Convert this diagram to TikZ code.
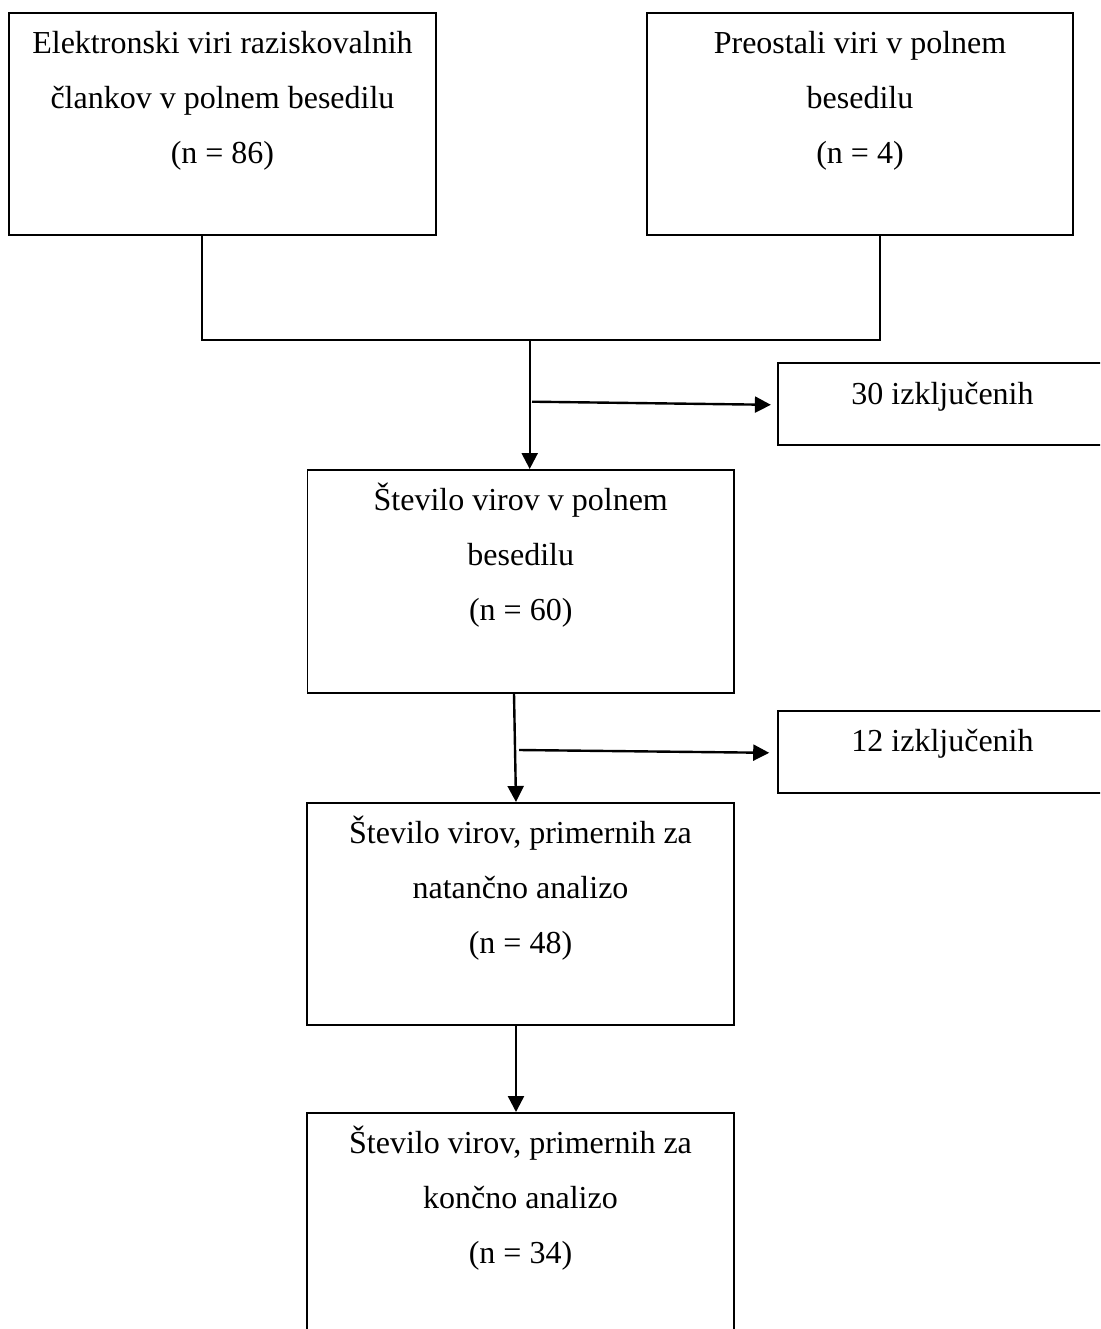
\documentclass[tikz,border=0pt]{standalone}
\usepackage{fontspec}
\setmainfont{Liberation Serif}
\usetikzlibrary{arrows.meta}
\newcommand\threelines[3]{\vtop{\halign{\hfil##\hfil\cr #1\cr #2\cr #3\cr}}}
\begin{document}
\begin{tikzpicture}[x=1pt,y=-1pt,
  boxnode/.style={draw, line width=1.6pt, rectangle, inner sep=0pt, anchor=north,
    font=\fontsize{32pt}{55pt}\selectfont, text=black},
  conn/.style={line width=1.6pt, line join=miter},
  arr/.style={line width=2.4pt, -{Triangle[length=16pt,width=16pt]}}]
\useasboundingbox (0,0) rectangle (1100,1329);
\clip (0,0) rectangle (1100,1329);

\node[boxnode, minimum width=427pt, text height=41pt, text depth=181pt] (b1) at (222.5,12)
  {\threelines{Elektronski viri raziskovalnih}{člankov v polnem besedilu}{(n = 86)}};
\node[boxnode, minimum width=426pt, text height=41pt, text depth=181pt] (b2) at (860,12)
  {\threelines{Preostali viri v polnem}{besedilu}{(n = 4)}};
\node[boxnode, minimum width=329.6pt, text height=41pt, text depth=41pt] (e1) at (942.5,362.3)
  {30 izključenih};
\node[boxnode, minimum width=426.5pt, text height=41pt, text depth=182pt] (b3) at (520.75,469)
  {\threelines{Število virov v polnem}{besedilu}{(n = 60)}};
\node[boxnode, minimum width=329.6pt, text height=41pt, text depth=41pt] (e2) at (942.5,710)
  {12 izključenih};
\node[boxnode, minimum width=427pt, text height=41pt, text depth=181pt] (b4) at (520.5,802)
  {\threelines{Število virov, primernih za}{natančno analizo}{(n = 48)}};
\node[boxnode, minimum width=427pt, text height=41pt, text depth=260pt] (b5) at (520.5,1112)
  {\threelines{Število virov, primernih za}{končno analizo}{(n = 34)}};

\coordinate (cL) at (201.7,340);
\coordinate (j1) at (529.7,340);
\coordinate (cR) at (879.7,340);
\coordinate (s1) at (532,401.7);
\coordinate (a2s) at (514,0);
\coordinate (a2e) at (516,0);
\coordinate (s2) at (519,750);
\coordinate (a3) at (516,0);

\draw[conn] (b1.south -| cL) -- (cL) -- (cR) -- (b2.south -| cR);
\draw[arr] (j1) -- (j1 |- b3.north);
\draw[arr] (s1) -- ([xshift=-6pt,yshift=-0.7pt]e1.west);
\draw[arr] (b3.south -| a2s) -- (b4.north -| a2e);
\draw[arr] (s2) -- ([xshift=-7.7pt,yshift=-1pt]e2.west);
\draw[arr] (b4.south -| a3) -- (b5.north -| a3);
\end{tikzpicture}
\end{document}
